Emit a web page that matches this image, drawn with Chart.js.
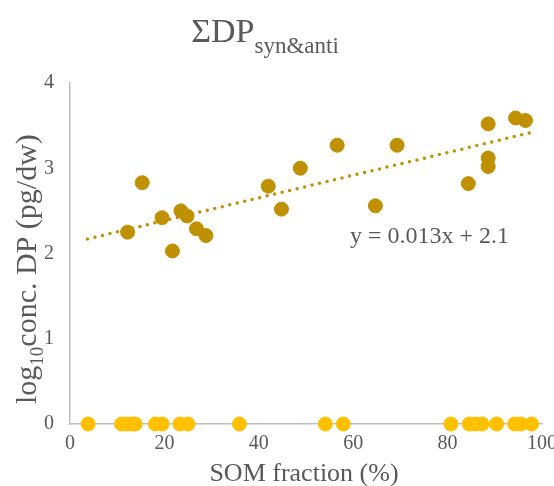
<!DOCTYPE html>
<html><head><meta charset="utf-8">
<script src="https://cdn.jsdelivr.net/npm/chart.js@4"></script>
<style>html,body{margin:0;padding:0;background:#fff}canvas{display:block}</style>
</head><body>
<canvas id="c" width="554" height="486"></canvas>
<script>
// SOM fraction (%) and log10 concentration for detected samples
const somDetected = [12.2, 15.3, 19.5, 21.7, 23.5, 24.8, 26.8, 28.8, 42.0, 44.8, 48.8, 56.6, 64.7, 69.3, 84.4, 88.6, 88.6, 88.6, 94.4, 96.5];
const logDetected = [2.25, 2.83, 2.42, 2.03, 2.50, 2.44, 2.29, 2.21, 2.79, 2.52, 3.00, 3.27, 2.56, 3.27, 2.82, 3.52, 3.12, 3.02, 3.59, 3.56];
// samples plotted at zero
const somZero = [3.85, 10.9, 12.0, 13.0, 13.8, 18.1, 19.5, 23.3, 25.0, 35.9, 54.1, 57.9, 80.7, 84.6, 86.0, 87.3, 90.4, 94.2, 95.5, 97.8];
const logZero = [0, 0, 0, 0, 0, 0, 0, 0, 0, 0, 0, 0, 0, 0, 0, 0, 0, 0, 0, 0];
// trendline end points
const trendX = [3.7, 98.5];
const trendY = [2.17, 3.43];
const xTicks = [0, 20, 40, 60, 80, 100];
const yTicks = [0, 1, 2, 3, 4];
const titleMain = 'ΣDP';
const titleSub = 'syn&anti';
const yTitleParts = ['log', '10', 'conc. DP (pg/dw)'];
const xTitle = 'SOM fraction (%)';
const equation = 'y = 0.013x + 2.1';

const FONT = '"Liberation Serif","Times New Roman",serif';
const GRAY = '#595959';
const DARK = '#BF9000';
const LIGHT = '#FFC000';

const textPlugin = {
  id: 'texts',
  afterDraw(chart) {
    const ctx = chart.ctx;
    ctx.save();
    ctx.fillStyle = GRAY;
    ctx.textBaseline = 'alphabetic';
    ctx.textAlign = 'left';
    // title
    ctx.font = '34px ' + FONT;
    const w1 = ctx.measureText(titleMain).width;
    ctx.font = '23px ' + FONT;
    const w2 = ctx.measureText(titleSub).width;
    let tx = 265 - (w1 + w2) / 2;
    ctx.font = '34px ' + FONT;
    ctx.fillText(titleMain, tx, 42);
    ctx.font = '23px ' + FONT;
    ctx.fillText(titleSub, tx + w1, 53);
    // x title
    ctx.font = '26px ' + FONT;
    ctx.textAlign = 'center';
    ctx.fillText(xTitle, 304, 481);
    // equation
    ctx.textAlign = 'left';
    ctx.font = '24px ' + FONT;
    ctx.fillText(equation, 350, 243);
    // y title rotated
    ctx.translate(36, 404);
    ctx.rotate(-Math.PI / 2);
    ctx.font = '30px ' + FONT;
    ctx.fillText(yTitleParts[0], 0, 0);
    let off = ctx.measureText(yTitleParts[0]).width;
    ctx.font = '19px ' + FONT;
    ctx.fillText(yTitleParts[1], off, 7);
    off += ctx.measureText(yTitleParts[1]).width;
    ctx.font = '30px ' + FONT;
    ctx.fillText(yTitleParts[2], off, 0);
    ctx.restore();
  }
};

new Chart(document.getElementById('c'), {
  type: 'scatter',
  data: {
    datasets: [
      {
        type: 'line',
        data: trendX.map((x, i) => ({x: x, y: trendY[i]})),
        borderColor: DARK,
        borderWidth: 3.5,
        borderDash: [0, 7.7],
        borderCapStyle: 'round',
        pointRadius: 0,
        fill: false,
        clip: false,
        order: 3
      },
      {
        data: somDetected.map((x, i) => ({x: x, y: logDetected[i]})),
        backgroundColor: DARK,
        borderColor: DARK,
        borderWidth: 1,
        pointRadius: 7,
        clip: false,
        order: 2
      },
      {
        data: somZero.map((x, i) => ({x: x, y: logZero[i]})),
        backgroundColor: LIGHT,
        borderColor: LIGHT,
        borderWidth: 1,
        pointRadius: 7,
        clip: false,
        order: 1
      }
    ]
  },
  options: {
    responsive: false,
    animation: false,
    events: [],
    layout: {padding: {left: 0, top: 83, right: 12, bottom: 0}},
    plugins: {legend: {display: false}, tooltip: {enabled: false}, title: {display: false}},
    scales: {
      x: {
        type: 'linear', min: 0, max: 100,
        afterBuildTicks: s => { s.ticks = xTicks.map(v => ({value: v})); },
        grid: {display: false, drawTicks: false},
        border: {display: true, color: '#BFBFBF', width: 1.5},
        ticks: {font: {family: FONT, size: 20}, color: GRAY, padding: 8, maxRotation: 0, autoSkip: false},
        afterFit: s => { s.height = 62; s.paddingLeft = 0; s.paddingRight = 0; }
      },
      y: {
        type: 'linear', min: 0, max: 4,
        afterBuildTicks: s => { s.ticks = yTicks.map(v => ({value: v})); },
        grid: {display: false, drawTicks: false},
        border: {display: true, color: '#BFBFBF', width: 1.5},
        ticks: {font: {family: FONT, size: 20}, color: GRAY, padding: 16, autoSkip: false},
        afterFit: s => { s.width = 70; s.paddingTop = 0; s.paddingBottom = 0; }
      }
    }
  },
  plugins: [textPlugin]
});
</script>
</body></html>
